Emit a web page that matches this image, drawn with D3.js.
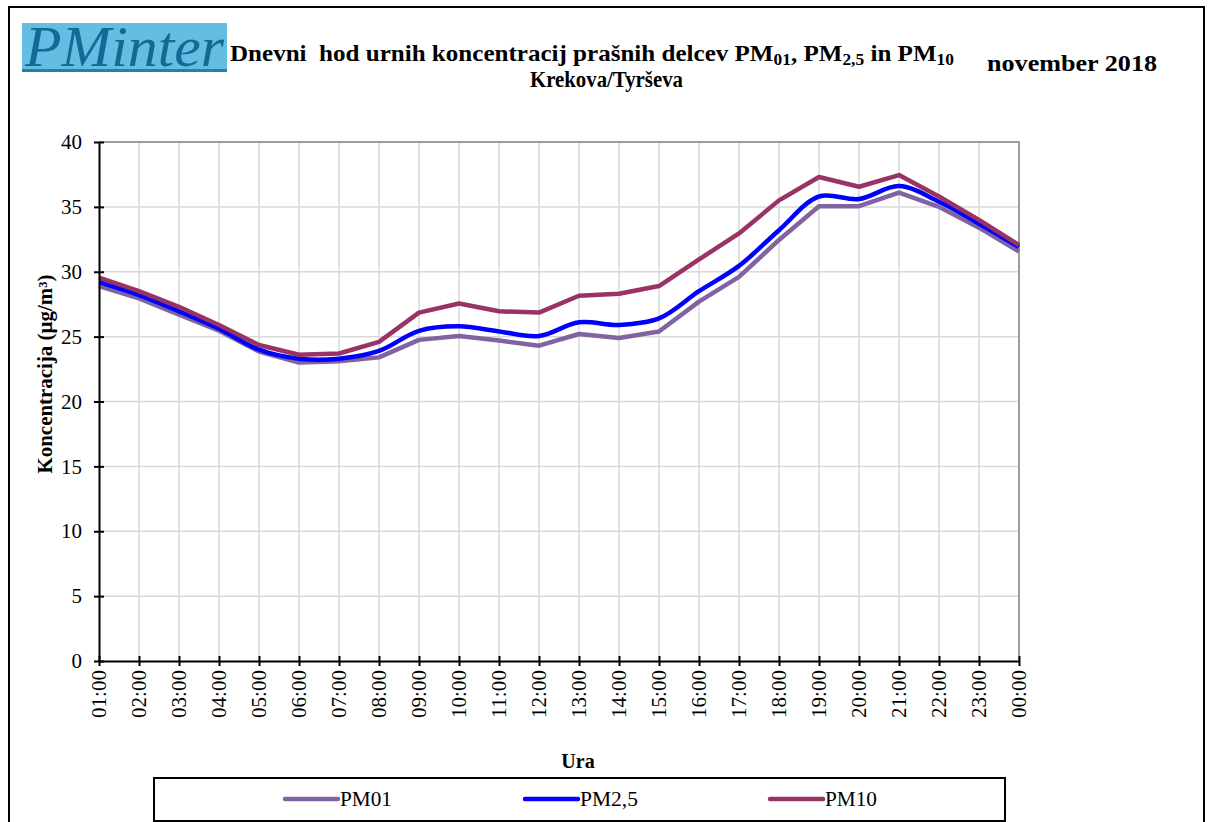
<!DOCTYPE html>
<html>
<head>
<meta charset="utf-8">
<script src="https://cdn.jsdelivr.net/npm/d3@7"></script>
<style>
  html, body { margin: 0; padding: 0; background: #fff; }
  svg { display: block; }
</style>
</head>
<body>
<svg id="chart"></svg>
<script>
// --- data ---
const hours = ['01:00', '02:00', '03:00', '04:00', '05:00', '06:00', '07:00', '08:00', '09:00', '10:00', '11:00', '12:00',
  '13:00', '14:00', '15:00', '16:00', '17:00', '18:00', '19:00', '20:00', '21:00', '22:00', '23:00', '00:00'];
const pm01 = [28.9, 27.95, 26.7, 25.45, 23.85, 23.0, 23.1, 23.4, 24.75, 25.05, 24.7, 24.3,
  25.2, 24.9, 25.4, 27.7, 29.6, 32.45, 35.05, 35.05, 36.1, 35.0, 33.4, 31.55];
const pm25 = [29.2, 28.2, 26.95, 25.6, 24.0, 23.3, 23.3, 23.9, 25.45, 25.8, 25.4, 25.05,
  26.1, 25.9, 26.4, 28.5, 30.45, 33.2, 35.8, 35.6, 36.6, 35.4, 33.7, 31.9];
const pm10 = [29.55, 28.5, 27.3, 25.9, 24.35, 23.6, 23.7, 24.6, 26.85, 27.55, 26.95, 26.85,
  28.15, 28.3, 28.9, 30.95, 32.95, 35.5, 37.3, 36.55, 37.45, 35.8, 34.0, 32.05];
const seriesNames = ['PM01', 'PM2,5', 'PM10'];
const seriesColors = ['#8064a2', '#0000ff', '#993366'];
const yTicks = [0, 5, 10, 15, 20, 25, 30, 35, 40];

const WIDTH = 1208;
const HEIGHT = 822;
const PLOT_LEFT = 99;
const PLOT_RIGHT = 1019;
const PLOT_TOP = 142;
const PLOT_BOTTOM = 661;
const FONT = '"Liberation Serif", "Times New Roman", serif';

const svg = d3.select('#chart')
  .attr('width', WIDTH)
  .attr('height', HEIGHT)
  .attr('font-family', FONT);

// outer frame
svg.append('rect')
  .attr('x', 9).attr('y', 7)
  .attr('width', 1195).attr('height', 840)
  .attr('fill', 'none')
  .attr('stroke', '#000')
  .attr('stroke-width', 2);

/* --LOGO-- */
const logo = svg.append('g');
logo.append('rect')
  .attr('x', 22).attr('y', 23)
  .attr('width', 205).attr('height', 49)
  .attr('fill', '#63bee2');
logo.append('rect')
  .attr('x', 22).attr('y', 69)
  .attr('width', 205).attr('height', 3)
  .attr('fill', '#2a7fa8');
logo.append('text')
  .attr('x', 25).attr('y', 66)
  .attr('font-family', FONT)
  .attr('font-style', 'italic')
  .attr('font-size', 56)
  .attr('textLength', 199)
  .attr('lengthAdjust', 'spacingAndGlyphs')
  .attr('fill', '#146a96')
  .text('PMinter');

/* --TITLE-- */
const title = svg.append('text')
  .attr('x', 230).attr('y', 61)
  .attr('font-size', 23)
  .attr('font-weight', 'bold')
  .attr('textLength', 724)
  .attr('lengthAdjust', 'spacingAndGlyphs');
const titleParts = [
  ['Dnevni  hod urnih koncentracij prašnih delcev PM', false],
  ['01', true], [', PM', false], ['2,5', true], [' in PM', false], ['10', true]
];
titleParts.forEach(([t, sub]) => {
  title.append('tspan')
    .attr('font-size', sub ? 16 : 23)
    .attr('baseline-shift', sub ? '-22%' : null)
    .attr('xml:space', 'preserve')
    .text(t);
});

svg.append('text')
  .attr('x', 530).attr('y', 87)
  .attr('font-size', 23)
  .attr('font-weight', 'bold')
  .attr('textLength', 153)
  .attr('lengthAdjust', 'spacingAndGlyphs')
  .text('Krekova/Tyrševa');

svg.append('text')
  .attr('x', 987).attr('y', 71)
  .attr('font-size', 23)
  .attr('font-weight', 'bold')
  .attr('textLength', 170)
  .attr('lengthAdjust', 'spacingAndGlyphs')
  .text('november  2018');

/* --SCALES-- */
const xScale = d3.scalePoint()
  .domain(hours)
  .range([PLOT_LEFT, PLOT_RIGHT]);

const yScale = d3.scaleLinear()
  .domain([0, 40])
  .range([PLOT_BOTTOM, PLOT_TOP]);

/* --GRID-- */
const grid = svg.append('g');
grid.selectAll('.hgrid')
  .data(yTicks.filter(d => d > 0))
  .enter().append('line')
  .attr('x1', PLOT_LEFT).attr('x2', PLOT_RIGHT)
  .attr('y1', d => yScale(d)).attr('y2', d => yScale(d))
  .attr('stroke', '#d9d9d9')
  .attr('stroke-width', 1.5);
grid.selectAll('.vgrid')
  .data(hours.slice(1))
  .enter().append('line')
  .attr('x1', d => xScale(d)).attr('x2', d => xScale(d))
  .attr('y1', PLOT_TOP).attr('y2', PLOT_BOTTOM)
  .attr('stroke', '#d9d9d9')
  .attr('stroke-width', 1.5);
// plot area border (top, right)
svg.append('path')
  .attr('d', `M${PLOT_LEFT},${PLOT_TOP}H${PLOT_RIGHT}V${PLOT_BOTTOM}`)
  .attr('fill', 'none')
  .attr('stroke', '#868686')
  .attr('stroke-width', 1.5);

/* --LINES-- */
const seriesData = [pm01, pm25, pm10];
const straight = d3.line()
  .x((d, i) => xScale(hours[i]))
  .y(d => yScale(d));
const smooth = d3.line()
  .x((d, i) => xScale(hours[i]))
  .y(d => yScale(d))
  .curve(d3.curveCatmullRom.alpha(0.5));

seriesData.forEach((vals, k) => {
  svg.append('path')
    .datum(vals)
    .attr('d', k === 1 ? smooth : straight)
    .attr('fill', 'none')
    .attr('stroke', seriesColors[k])
    .attr('stroke-width', 4.5)
    .attr('stroke-linejoin', 'round');
});

/* --AXES-- */
const yAxis = d3.axisLeft(yScale)
  .tickValues(yTicks)
  .tickSize(0)
  .tickPadding(17);

const yAxisG = svg.append('g')
  .attr('transform', `translate(${PLOT_LEFT},0)`)
  .call(yAxis);
yAxisG.select('.domain').attr('stroke', '#000').attr('stroke-width', 2);
yAxisG.selectAll('.tick line').remove();
yAxisG.selectAll('.tick').append('line')
  .attr('x1', -5).attr('x2', 5)
  .attr('stroke', '#000').attr('stroke-width', 2);
yAxisG.selectAll('.tick text')
  .attr('font-family', FONT)
  .attr('font-size', 21)
  .attr('fill', '#000');

const xAxis = d3.axisBottom(xScale)
  .tickSize(0)
  .tickPadding(0);

const xAxisG = svg.append('g')
  .attr('transform', `translate(0,${PLOT_BOTTOM})`)
  .call(xAxis);
xAxisG.select('.domain').attr('stroke', '#000').attr('stroke-width', 2);
xAxisG.selectAll('.tick line').remove();
xAxisG.selectAll('.tick').append('line')
  .attr('y1', -5).attr('y2', 5)
  .attr('stroke', '#000').attr('stroke-width', 2);
xAxisG.selectAll('.tick text')
  .attr('font-family', FONT)
  .attr('font-size', 21)
  .attr('fill', '#000')
  .attr('text-anchor', 'end')
  .attr('transform', 'translate(0,9) rotate(-90)')
  .attr('x', 0).attr('y', 0)
  .attr('dy', '0.33em')
  .attr('textLength', 48)
  .attr('lengthAdjust', 'spacing');

/* --AXIS TITLES-- */
svg.append('text')
  .attr('transform', 'translate(52,374) rotate(-90)')
  .attr('text-anchor', 'middle')
  .attr('font-size', 20)
  .attr('font-weight', 'bold')
  .attr('textLength', 199)
  .attr('lengthAdjust', 'spacingAndGlyphs')
  .text('Koncentracija (µg/m³)');

svg.append('text')
  .attr('x', 578).attr('y', 768)
  .attr('text-anchor', 'middle')
  .attr('font-size', 20)
  .attr('font-weight', 'bold')
  .text('Ura');

/* --LEGEND-- */
const legendG = svg.append('g');
legendG.append('rect')
  .attr('x', 154).attr('y', 778)
  .attr('width', 851).attr('height', 43)
  .attr('fill', '#fff')
  .attr('stroke', '#000')
  .attr('stroke-width', 2);

const legendX = [285, 525, 770];
const legendTextW = [52, 58, 52];
seriesNames.forEach((name, k) => {
  legendG.append('line')
    .attr('x1', legendX[k]).attr('x2', legendX[k] + 53)
    .attr('y1', 799).attr('y2', 799)
    .attr('stroke', seriesColors[k])
    .attr('stroke-width', 4.5)
    .attr('stroke-linecap', 'round');
  legendG.append('text')
    .attr('x', legendX[k] + 55).attr('y', 806)
    .attr('font-size', 20)
    .attr('textLength', legendTextW[k])
    .attr('lengthAdjust', 'spacingAndGlyphs')
    .text(name);
});
</script>
</body>
</html>
